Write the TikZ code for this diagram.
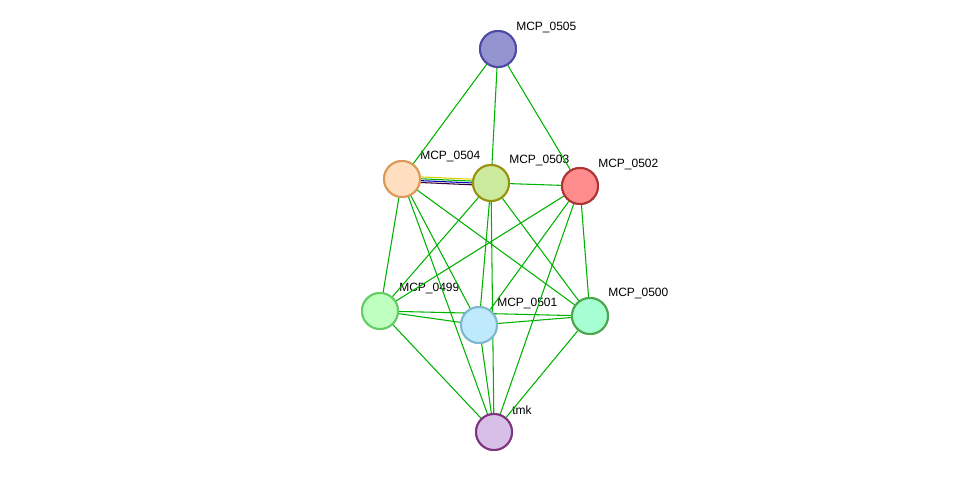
\documentclass[tikz,border=0pt]{standalone}
\usepackage{fontspec}
\setmainfont{Liberation Sans}
\begin{document}
\begin{tikzpicture}[x=0.75pt,y=-0.75pt,
	prot/.style={circle, draw, line width=1.5pt, minimum size=27pt, inner sep=0pt},
	lbl/.style={anchor=west, inner sep=0pt, font=\fontsize{9}{10}\selectfont},
	link/.style={draw=green!70!black, line width=0.8pt}]

	\useasboundingbox (0,0) rectangle (975,477);

	\node (c0505) [prot, fill=blue!40!gray!60, draw=blue!50!black!70] at (498, 49) {};
	\node (c0504) [prot, fill=orange!25, draw=brown!70!orange!80] at (402, 179) {};
	\node (c0503) [prot, fill=yellow!50!green!40, draw=olive!90] at (491, 183) {};
	\node (c0502) [prot, fill=red!45, draw=red!60!black!80] at (580, 186) {};
	\node (c0499) [prot, fill=green!25, draw=green!50!gray!80] at (380, 311) {};
	\node (c0501) [prot, fill=cyan!25, draw=cyan!50!gray!80] at (479, 325) {};
	\node (c0500) [prot, fill=green!50!cyan!35, draw=green!50!black!70] at (590, 316) {};
	\node (ctmk) [prot, fill=blue!25!violet!25, draw=violet!60!gray] at (494, 432) {};

	\node (l0505) [lbl] at (516, 28) {MCP\_0505};
	\node (l0504) [lbl] at (420, 157) {MCP\_0504};
	\node (l0503) [lbl] at (509, 161) {MCP\_0503};
	\node (l0502) [lbl] at (598, 165) {MCP\_0502};
	\node (l0499) [lbl] at (399, 289) {MCP\_0499};
	\node (l0501) [lbl] at (497, 304) {MCP\_0501};
	\node (l0500) [lbl] at (608, 294) {MCP\_0500};
	\node (ltmk) [lbl] at (512, 410) {tmk};

	\begin{scope}[on background layer/.style={}]
	\path[link]
	(c0505) edge (c0504)
	(c0505) edge (c0503)
	(c0505) edge (c0502)
	(c0504) edge (c0499)
	(c0504) edge (c0501)
	(c0504) edge (c0500)
	(c0504) edge (ctmk)
	(c0503) edge (c0502)
	(c0503) edge (c0499)
	(c0503) edge (c0501)
	(c0503) edge (c0500)
	(c0503) edge (ctmk)
	(c0502) edge (c0499)
	(c0502) edge (c0501)
	(c0502) edge (c0500)
	(c0502) edge (ctmk)
	(c0499) edge (c0501)
	(c0499) edge (c0500)
	(c0499) edge (ctmk)
	(c0501) edge (c0500)
	(c0501) edge (ctmk)
	(c0500) edge (ctmk);
	\end{scope}

	\draw[yellow!70!olive, line width=0.8pt, transform canvas={yshift=2.2pt}] (c0504) -- (c0503);
	\draw[green!70!black, line width=0.8pt, transform canvas={yshift=0.8pt}] (c0504) -- (c0503);
	\draw[blue!70!black, line width=0.8pt, transform canvas={yshift=-0.6pt}] (c0504) -- (c0503);
	\draw[violet!40!black, line width=0.8pt, transform canvas={yshift=-2pt}] (c0504) -- (c0503);

	% redraw nodes over connectors
	\node [prot, fill=orange!25, draw=brown!70!orange!80] at (c0504) {};
	\node [prot, fill=yellow!50!green!40, draw=olive!90] at (c0503) {};
	\node [prot, fill=blue!40!gray!60, draw=blue!50!black!70] at (c0505) {};
	\node [prot, fill=red!45, draw=red!60!black!80] at (c0502) {};
	\node [prot, fill=green!25, draw=green!50!gray!80] at (c0499) {};
	\node [prot, fill=cyan!25, draw=cyan!50!gray!80] at (c0501) {};
	\node [prot, fill=green!50!cyan!35, draw=green!50!black!70] at (c0500) {};
	\node [prot, fill=blue!25!violet!25, draw=violet!60!gray] at (ctmk) {};

\end{tikzpicture}
\end{document}
